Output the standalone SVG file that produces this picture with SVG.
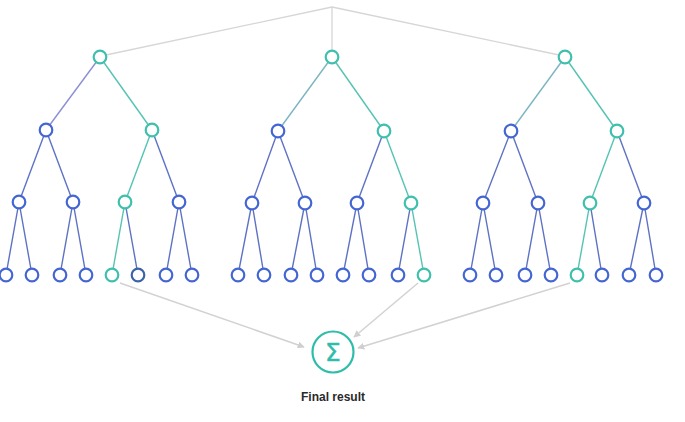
<svg xmlns="http://www.w3.org/2000/svg" width="685" height="422" viewBox="0 0 685 422">
<defs>
<style>
.n{fill:#fff;stroke:#4466d2;stroke-width:2.2}
.t{fill:#fff;stroke:#3ec0ad;stroke-width:2.2}
.eb{stroke:#5e72c4;stroke-width:1.4;fill:none}
.et{stroke:#55c3b3;stroke-width:1.4;fill:none}
.g{stroke:#d6d6d6;stroke-width:1.3;fill:none}
.a{stroke:#d2d2d2;stroke-width:1.5;fill:none}
</style>
<marker id="ah" viewBox="0 0 10 10" refX="9" refY="5" markerWidth="7" markerHeight="7" markerUnits="userSpaceOnUse" orient="auto">
<path d="M0,0 L10,5 L0,10 z" fill="#cfcfcf"/>
</marker>
</defs>
<rect width="685" height="422" fill="#fff"/>
<g id="connectors">
<path class="g" d="M332,7 L106,55 M332,7 L332,51 M332,7 L559,55"/>
<!-- tree 1 -->
<path d="M100,57 L46,130" stroke="#8b8fd4" stroke-width="1.4" fill="none"/>
<path class="et" d="M100,57 L152,130"/>
<path class="eb" d="M46,130 L19,202 M46,130 L73,202"/>
<path class="et" d="M152,130 L125,202"/>
<path class="eb" d="M152,130 L179,202"/>
<path class="eb" d="M19,202 L6,275 M19,202 L32,275 M73,202 L60,275 M73,202 L86,275"/>
<path class="et" d="M125,202 L112,275"/>
<path class="eb" d="M125,202 L138,275 M179,202 L166,275 M179,202 L192,275"/>
<!-- tree 2 -->
<path d="M332,57 L278,131" stroke="#7ab6bf" stroke-width="1.4" fill="none"/>
<path class="et" d="M332,57 L384,131"/>
<path class="eb" d="M278,131 L252,203 M278,131 L305,203"/>
<path class="eb" d="M384,131 L357,203"/>
<path class="et" d="M384,131 L411,203"/>
<path class="eb" d="M252,203 L238,275 M252,203 L264,275 M305,203 L291,275 M305,203 L317,275 M357,203 L343,275 M357,203 L369,275 M411,203 L398,275"/>
<path class="et" d="M411,203 L424,275"/>
<!-- tree 3 -->
<path d="M565,57 L511,131" stroke="#7ab6bf" stroke-width="1.4" fill="none"/>
<path class="et" d="M565,57 L617,131"/>
<path class="eb" d="M511,131 L483,203 M511,131 L538,203"/>
<path class="et" d="M617,131 L590,203"/>
<path class="eb" d="M617,131 L644,203"/>
<path class="eb" d="M483,203 L470,275 M483,203 L496,275 M538,203 L525,275 M538,203 L551,275"/>
<path class="et" d="M590,203 L577,275"/>
<path class="eb" d="M590,203 L602,275 M644,203 L629,275 M644,203 L656,275"/>
<!-- arrows to sum -->
<path class="a" d="M120,283 L304,347" marker-end="url(#ah)"/>
<path class="a" d="M418,283 L354,337" marker-end="url(#ah)"/>
<path class="a" d="M570,283 L358,348" marker-end="url(#ah)"/>
</g>
<g id="tree1">
<circle class="t" cx="100" cy="57" r="6.3"/>
<circle class="n" cx="46" cy="130" r="6.3"/>
<circle class="t" cx="152" cy="130" r="6.3"/>
<circle class="n" cx="19" cy="202" r="6.3"/>
<circle class="n" cx="73" cy="202" r="6.3"/>
<circle class="t" cx="125" cy="202" r="6.3"/>
<circle class="n" cx="179" cy="202" r="6.3"/>
<circle class="n" cx="6" cy="275" r="6.3"/>
<circle class="n" cx="32" cy="275" r="6.3"/>
<circle class="n" cx="60" cy="275" r="6.3"/>
<circle class="n" cx="86" cy="275" r="6.3"/>
<circle class="t" cx="112" cy="275" r="6.3"/>
<circle class="n" cx="138" cy="275" r="6.3" style="stroke:#3c63a8"/>
<circle class="n" cx="166" cy="275" r="6.3"/>
<circle class="n" cx="192" cy="275" r="6.3"/>
</g>
<g id="tree2">
<circle class="t" cx="332" cy="57" r="6.3"/>
<circle class="n" cx="278" cy="131" r="6.3"/>
<circle class="t" cx="384" cy="131" r="6.3"/>
<circle class="n" cx="252" cy="203" r="6.3"/>
<circle class="n" cx="305" cy="203" r="6.3"/>
<circle class="n" cx="357" cy="203" r="6.3"/>
<circle class="t" cx="411" cy="203" r="6.3"/>
<circle class="n" cx="238" cy="275" r="6.3"/>
<circle class="n" cx="264" cy="275" r="6.3"/>
<circle class="n" cx="291" cy="275" r="6.3"/>
<circle class="n" cx="317" cy="275" r="6.3"/>
<circle class="n" cx="343" cy="275" r="6.3"/>
<circle class="n" cx="369" cy="275" r="6.3"/>
<circle class="n" cx="398" cy="275" r="6.3"/>
<circle class="t" cx="424" cy="275" r="6.3"/>
</g>
<g id="tree3">
<circle class="t" cx="565" cy="57" r="6.3"/>
<circle class="n" cx="511" cy="131" r="6.3"/>
<circle class="t" cx="617" cy="131" r="6.3"/>
<circle class="n" cx="483" cy="203" r="6.3"/>
<circle class="n" cx="538" cy="203" r="6.3"/>
<circle class="t" cx="590" cy="203" r="6.3"/>
<circle class="n" cx="644" cy="203" r="6.3"/>
<circle class="n" cx="470" cy="275" r="6.3"/>
<circle class="n" cx="496" cy="275" r="6.3"/>
<circle class="n" cx="525" cy="275" r="6.3"/>
<circle class="n" cx="551" cy="275" r="6.3"/>
<circle class="t" cx="577" cy="275" r="6.3"/>
<circle class="n" cx="602" cy="275" r="6.3"/>
<circle class="n" cx="629" cy="275" r="6.3"/>
<circle class="n" cx="656" cy="275" r="6.3"/>
</g>
<g id="sum">
<circle cx="333" cy="352" r="20.5" fill="#fff" stroke="#2fbcab" stroke-width="2.2"/>
<text x="333" y="361" text-anchor="middle" font-family="'DejaVu Sans', sans-serif" font-size="25" fill="#2fbcab" stroke="#2fbcab" stroke-width="0.4">Σ</text>
<text x="333" y="401" text-anchor="middle" font-family="'Liberation Sans', Arial, sans-serif" font-size="12" font-weight="bold" fill="#2a2a2a">Final result</text>
</g>
</svg>
